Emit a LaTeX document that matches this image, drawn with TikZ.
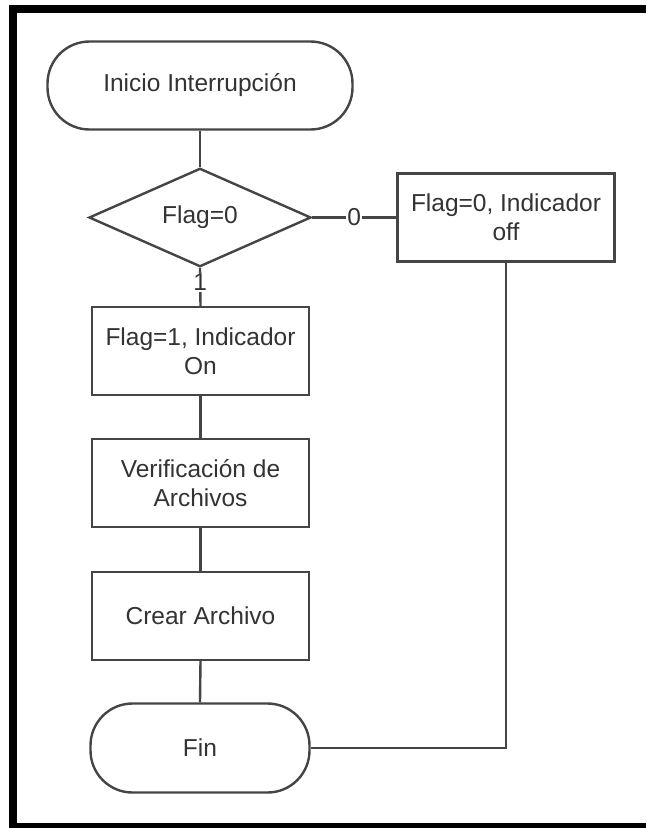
\documentclass[tikz,border=0pt]{standalone}
\usepackage{fontspec}
\setmainfont{Liberation Sans}
\usetikzlibrary{shapes.geometric}
\definecolor{ln}{HTML}{454545}
\definecolor{tx}{HTML}{333333}
\begin{document}
\begin{tikzpicture}[x=1pt,y=-1pt,
  base/.style={draw=ln, line width=2.4pt, text=tx, inner sep=0pt,
    font=\fontsize{24.5}{29}\selectfont, align=center},
  term/.style={base, rectangle, rounded corners=42pt},
  procbox/.style={base, rectangle, minimum width=217pt, minimum height=88pt},
  decbox/.style={base, diamond, minimum width=222pt, minimum height=89pt},
  conn/.style={draw=ln, line width=2.4pt},
  lbl/.style={fill=white, text=tx, inner sep=1pt, font=\fontsize{24.5}{29}\selectfont}
]
\useasboundingbox (0,0) rectangle (646,828);
\fill[white] (0,0) rectangle (646,828);
% frame
\fill[black] (9,5) rectangle (646,13);
\fill[black] (9,5) rectangle (17,828);
\fill[black] (9,823) rectangle (646,828);

\node[term, minimum width=305pt, minimum height=88pt] (start) at (200,85.5) {Inicio Interrupción};
\node[decbox] (dec) at (200,217.5) {Flag=0};
\node[procbox] (off) at (506,217.5) {Flag=0, Indicador\\off};
\node[procbox] (on) at (200.5,351) {Flag=1, Indicador\\On};
\node[procbox] (ver) at (200.5,483) {Verificación de\\Archivos};
\node[procbox] (crear) at (200.5,616) {Crear Archivo};
\node[term, minimum width=219pt, minimum height=89pt] (fin) at (200,748) {Fin};

\draw[conn] (start.south) -- (dec.north);
\draw[conn] (dec.east) -- node[lbl] {0} (off.west);
\draw[conn] (dec.south) -- node[lbl, pos=0.38] {1} (on.north);
\draw[conn] (on.south) -- (ver.north);
\draw[conn] (ver.south) -- (crear.north);
\draw[conn] (crear.south) -- (fin.north);
\draw[conn] (off.south) |- (fin.east);
\end{tikzpicture}
\end{document}
